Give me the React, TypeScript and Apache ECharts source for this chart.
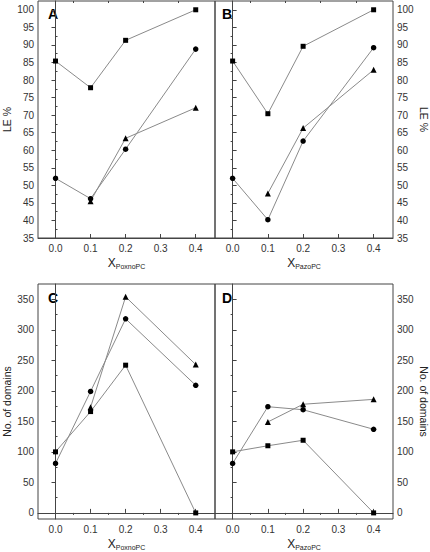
import React, { useEffect, useRef } from "react";
import * as echarts from "echarts";

// ---- data ----
const xAll = [0, 0.1, 0.2, 0.4];
const xTri = [0.1, 0.2, 0.4];

const aSquare = [85.4, 77.8, 91.3, 100];
const aCircle = [52, 46.2, 60.3, 88.8];
const aTriangle = [45.5, 63.4, 72.1];

const bSquare = [85.4, 70.4, 89.6, 100];
const bCircle = [52, 40.2, 62.6, 89.2];
const bTriangle = [47.7, 66.3, 82.9];

const cSquare = [100, 166, 242, 0];
const cCircle = [81, 199, 318, 209];
const cTriangle = [173, 354, 243];

const dSquare = [100, 110, 119, 0];
const dCircle = [81, 174, 169, 137];
const dTriangle = [149, 178, 186];

const leTicks = [35, 40, 45, 50, 55, 60, 65, 70, 75, 80, 85, 90, 95, 100];
const leMinor = [37.5, 42.5, 47.5, 52.5, 57.5, 62.5, 67.5, 72.5, 77.5, 82.5, 87.5, 92.5, 97.5];
const domTicks = [0, 50, 100, 150, 200, 250, 300, 350];
const domMinor = [25, 75, 125, 175, 225, 275, 325];
const xTicks = [0, 0.1, 0.2, 0.3, 0.4];
const xMinor = [0.05, 0.15, 0.25, 0.35];

const FONT = "'Liberation Sans', Arial, sans-serif";
const AX = "#444";
const LINE = "#8a8a8a";

const pair = (xs: number[], ys: number[]) => xs.map((x, i) => [x, ys[i]]);

export default function App() {
  const ref = useRef<HTMLDivElement>(null);
  useEffect(() => {
    if (!ref.current) return;
    const chart = echarts.init(ref.current, undefined, { renderer: "svg" });

    const grids = [
      { left: 36, top: 1, width: 179, height: 237 },
      { left: 215, top: 1, width: 180, height: 237 },
      { left: 36, top: 284, width: 179, height: 237 },
      { left: 215, top: 284, width: 180, height: 237 },
    ].map((g) => ({ ...g, show: true, borderColor: AX, borderWidth: 1, backgroundColor: "transparent" }));

    const xNames = ["PoxnoPC", "PazoPC", "PoxnoPC", "PazoPC"];
    const xAxes: any[] = [];
    const yAxes: any[] = [];
    for (let g = 0; g < 4; g++) {
      const xBase = {
        type: "value",
        gridIndex: g,
        min: -0.05,
        max: 0.455,
        splitLine: { show: false },
        axisLine: { lineStyle: { color: AX } },
      };
      xAxes.push({
        ...xBase,
        name: "{x|X}{s|" + xNames[g] + "}",
        nameLocation: "middle",
        nameGap: 17,
        nameTextStyle: {
          rich: {
            x: { fontSize: 12, fontFamily: FONT, color: "#222" },
            s: { fontSize: 7, fontFamily: FONT, color: "#222", padding: [8, 0, 0, 0] },
          },
        },
        axisTick: { inside: true, length: 4, customValues: xTicks, lineStyle: { color: AX } },
        axisLabel: {
          customValues: xTicks,
          fontSize: 10,
          fontFamily: FONT,
          color: "#333",
          margin: 5,
          formatter: (v: number) => v.toFixed(1),
        },
      });
      xAxes.push({
        ...xBase,
        axisLine: { show: false },
        axisTick: { inside: true, length: 2, customValues: xMinor, lineStyle: { color: AX } },
        axisLabel: { show: false },
      });
      const top = g < 2;
      const right = g % 2 === 1;
      const yBase = {
        type: "value",
        gridIndex: g,
        position: right ? "right" : "left",
        min: top ? 35 : -10,
        max: top ? 102.5 : 375,
        splitLine: { show: false },
      };
      yAxes.push({
        ...yBase,
        name: top ? "LE %" : "No. of domains",
        nameLocation: "middle",
        nameGap: right ? 25 : 26,
        nameRotate: right ? -90 : 90,
        nameTextStyle: { fontSize: 10.5, fontFamily: FONT, color: "#222" },
        axisLine: { show: true, lineStyle: { color: AX } },
        axisTick: { show: true, inside: false, length: 4, customValues: top ? leTicks : domTicks, lineStyle: { color: AX } },
        axisLabel: {
          customValues: top ? leTicks : domTicks,
          fontSize: 10,
          fontFamily: FONT,
          color: "#333",
          margin: 4,
        },
      });
      yAxes.push({
        ...yBase,
        axisLine: { show: false },
        axisTick: { show: true, inside: true, length: 2, customValues: top ? leMinor : domMinor, lineStyle: { color: AX } },
        axisLabel: { show: false },
      });
    }

    const panels = [
      [aSquare, aCircle, aTriangle],
      [bSquare, bCircle, bTriangle],
      [cSquare, cCircle, cTriangle],
      [dSquare, dCircle, dTriangle],
    ];
    const series: any[] = [];
    panels.forEach((p, g) => {
      const common = {
        type: "line",
        xAxisIndex: g * 2,
        yAxisIndex: g * 2,
        lineStyle: { color: LINE, width: 1 },
        itemStyle: { color: "#000" },
        silent: true,
      };
      series.push({ ...common, data: pair(xAll, p[0]), symbol: "rect", symbolSize: 5 });
      series.push({ ...common, data: pair(xAll, p[1]), symbol: "circle", symbolSize: 5.5 });
      series.push({ ...common, data: pair(xTri, p[2]), symbol: "triangle", symbolSize: 6 });
    });

    const letter = (t: string, x: number, y: number) => ({
      type: "text",
      x,
      y,
      style: { text: t, fontSize: 14, fontWeight: "bold", fontFamily: FONT, fill: "#000" },
    });

    chart.setOption({
      animation: false,
      backgroundColor: "#fff",
      grid: grids,
      xAxis: xAxes,
      yAxis: yAxes,
      series,
      graphic: [letter("A", 48, 7), letter("B", 222, 7), letter("C", 48, 291), letter("D", 222, 291)],
    });
    return () => chart.dispose();
  }, []);
  return (
    <div style={{ position: "fixed", left: 0, top: 0, width: 430, height: 552, background: "#fff" }}>
      <div ref={ref} style={{ width: 430, height: 552 }} />
    </div>
  );
}
